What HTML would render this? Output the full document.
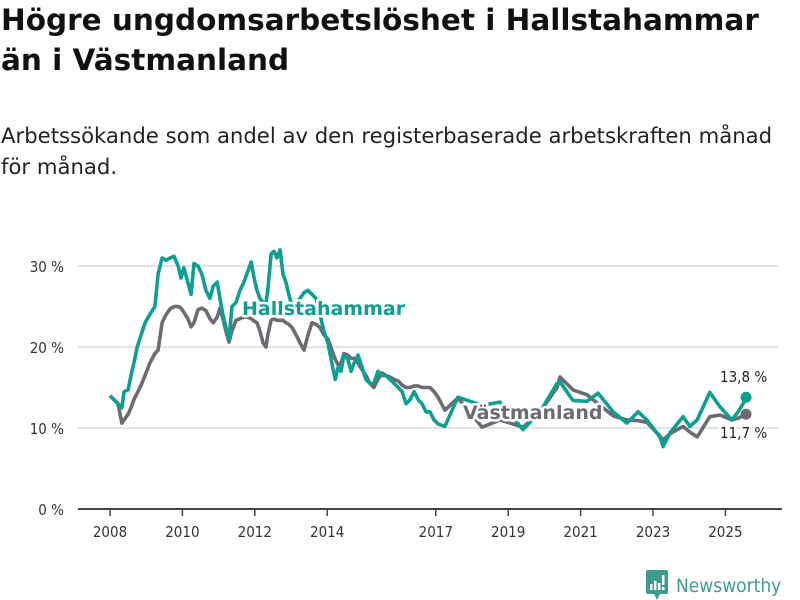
<!DOCTYPE html>
<html><head><meta charset="utf-8"><style>
body{margin:0;background:#fff;font-family:"DejaVu Sans","Liberation Sans",sans-serif;}
#wrap{position:relative;width:800px;height:600px;overflow:hidden;}
h1{position:absolute;left:1px;top:0px;margin:0;font-size:29.5px;line-height:40px;font-weight:bold;color:#111;width:800px;white-space:nowrap;}
.sub{position:absolute;left:1px;top:120px;margin:0;font-size:21.2px;line-height:31px;color:#222;width:800px;white-space:nowrap;}
.logo{position:absolute;left:646px;top:570px;font-size:19px;color:#3d9b90;font-family:"DejaVu Sans Condensed","Liberation Sans",sans-serif;}
</style></head><body>
<div id="wrap">
<h1>Högre ungdomsarbetslöshet i Hallstahammar<br>än i Västmanland</h1>
<p class="sub">Arbetssökande som andel av den registerbaserade arbetskraften månad<br>för månad.</p>
<svg id="chart" width="800" height="600" style="position:absolute;left:0;top:0"></svg>
<div class="logo"><svg width="24" height="30" style="vertical-align:-8px;margin-right:6px"><rect x="0" y="0" width="22" height="24" rx="2" fill="#3d9b90"/><path d="M8 24 L11 30 L14 24Z" fill="#3d9b90"/><rect x="4" y="14" width="2.5" height="6" fill="#fff"/><rect x="8" y="11" width="2.5" height="9" fill="#fff"/><rect x="12" y="13" width="2.5" height="7" fill="#fff"/><rect x="16" y="5" width="2.5" height="10" fill="#fff"/><rect x="16" y="17" width="2.5" height="3" fill="#fff"/></svg>Newsworthy</div>
</div>
<script>
const dates=[2008.0,2008.22,2008.33,2008.39,2008.5,2008.58,2008.66,2008.75,2008.86,2008.97,
2009.1,2009.24,2009.33,2009.44,2009.55,2009.66,2009.77,2009.88,2009.96,2010.04,
2010.15,2010.24,2010.32,2010.43,2010.54,2010.65,2010.76,2010.85,2010.96,2011.04,
2011.12,2011.2,2011.29,2011.37,2011.48,2011.59,2011.7,2011.78,2011.9,2011.98,
2012.06,2012.14,2012.23,2012.31,2012.36,2012.45,2012.53,2012.61,2012.7,2012.78,
2012.86,2012.94,2013.03,2013.14,2013.25,2013.36,2013.47,2013.58,2013.69,2013.8,
2013.91,2014.02,2014.13,2014.22,2014.3,2014.38,2014.46,2014.57,2014.66,2014.74,
2014.85,2014.96,2015.07,2015.18,2015.29,2015.4,2015.51,2015.62,2015.73,2015.85,
2015.96,2016.07,2016.18,2016.29,2016.4,2016.51,2016.62,2016.73,2016.84,2016.95,
2017.06,2017.25,2017.61,2018.28,2018.77,2019.41,2019.88,2020.35,2020.43,2020.79,
2021.18,2021.48,2021.9,2022.28,2022.59,2022.83,2023.19,2023.28,2023.47,2023.83,
2024.02,2024.22,2024.57,2024.85,2025.18,2025.35,2025.49,2025.57];
const hallstahammar=[14,13,12.5,14.5,14.7,16.5,18,20,21.5,23,
24,25,29,31,30.7,31,31.2,30,28.5,29.8,
28,26.5,30.3,30,29,27,26,27.5,28,26,
24,22.5,21,25,25.5,27,28,29,30.5,28.5,
27,26,25.5,25.5,27,31.5,31.8,31,32,29,
28,26.5,25,25.5,26,26.7,27,26.5,26,24,
22,20.5,18,16,17.5,17,19,18.5,17,18,
19,17.5,16,15.5,15.5,17,16.5,16.5,16,15.5,
15,14.5,13,13.5,14.5,13.5,13,12,12,11,
10.5,10.2,13.8,12.8,13.2,9.8,12,15.5,15.7,13.4,
13.3,14.3,12,10.6,12,11,8.9,7.7,9.4,11.4,
10.2,11,14.4,12.6,11,12,13,13.8];
const vastmanland=[14,13,10.6,11,11.7,12.5,13.5,14.3,15.3,16.5,
18,19.2,19.6,23,24,24.7,25,25,24.8,24.3,
23.5,22.5,23,24.6,24.8,24.5,23.5,23,23.7,24.8,
23.5,22,20.6,22,23.3,23.5,23.7,23.7,23.5,23.2,
23,22,20.5,20,21.5,23.3,23.5,23.3,23.3,23.3,
23,22.8,22.4,21.5,20.5,19.6,21.5,23,22.8,22.4,
21.5,21,19.6,18.5,17.8,18,19.2,19,18.6,18.6,
18,17.2,16.5,15.5,15,16,16.8,16.5,16.3,16,
15.8,15.3,15,15,15.2,15.2,15,15,15,14.5,
13.8,12.2,13.7,10.1,11,10.1,12,15,16.3,14.7,
14.1,13,11.5,11,10.9,10.7,9,8.5,9.3,10.2,
9.5,8.9,11.4,11.6,11,11.2,11.5,11.7];
const yTicks=[0,10,20,30];
const yTickLabels=["0 %","10 %","20 %","30 %"];
const xTicks=[2008,2010,2012,2014,2017,2019,2021,2023,2025];
const lastLabels=["13,8 %","11,7 %"];

const NS="http://www.w3.org/2000/svg";
const svg=document.getElementById('chart');
const X=v=>110+(v-2008)*36.2;
const Y=v=>509-v*8.1;
function mk(t,a,p){const e=document.createElementNS(NS,t);for(const k in a)e.setAttribute(k,a[k]);(p||svg).appendChild(e);return e;}
yTicks.forEach((t,i)=>{
  if(t>0){const g=mk('line',{x1:78,x2:778,y1:Y(t),y2:Y(t),stroke:'#dcdcdc','stroke-width':1.5});
  
  }
  const l=mk('text',{x:64,y:Y(t)+6,'text-anchor':'end','font-size':15,fill:'#333','font-family':'DejaVu Sans Condensed, Liberation Sans, sans-serif'});
  l.textContent=yTickLabels[i];
  
  
});
const base=mk('line',{x1:78,x2:782,y1:509,y2:509,stroke:'#444','stroke-width':2});


xTicks.forEach(t=>{
  const tk=mk('line',{x1:X(t),x2:X(t),y1:509,y2:516,stroke:'#444','stroke-width':1.5});
  
  
  const l=mk('text',{x:X(t),y:537,'text-anchor':'middle','font-size':15,fill:'#333','font-family':'DejaVu Sans Condensed, Liberation Sans, sans-serif'});
  l.textContent=t;
  
  
});
function line(vals,col,name){
  const d=vals.map((v,i)=>(i?'L':'M')+X(dates[i]).toFixed(1)+' '+Y(v).toFixed(1)).join(' ');
  const p=mk('path',{d:d,fill:'none',stroke:col,'stroke-width':3.6,'stroke-linejoin':'round'});
  
  
}
line(vastmanland,'#6d6b72','vastmanland-line');
line(hallstahammar,'#0e9e92','hallstahammar-line');
const n=dates.length-1;
const d1=mk('circle',{cx:X(dates[n]),cy:Y(vastmanland[n]),r:5.5,fill:'#6d6b72'});


const d2=mk('circle',{cx:X(dates[n]),cy:Y(hallstahammar[n]),r:5.5,fill:'#0e9e92'});


function lab(txt,x,y,col,name,bold,halo){
  const t=mk('text',{x:x,y:y,'font-size':bold?19:15,'font-weight':bold?'bold':'normal',fill:col,'font-family':bold?'DejaVu Sans, Liberation Sans, sans-serif':'DejaVu Sans Condensed, Liberation Sans, sans-serif',stroke:halo?'#fff':'none','stroke-width':halo?5:0,'paint-order':'stroke','stroke-linejoin':'round'});
  t.textContent=txt;
  
  
}
lab('Hallstahammar',242,315,'#0e9e92','hallstahammar-label',true,true);
lab('Västmanland',463,419,'#6d6b72','vastmanland-label',true,true);
lab(lastLabels[0],720,382,'#222','hallstahammar-last-value',false,true);
lab(lastLabels[1],720,438,'#222','vastmanland-last-value',false,true);
</script>
</body></html>
